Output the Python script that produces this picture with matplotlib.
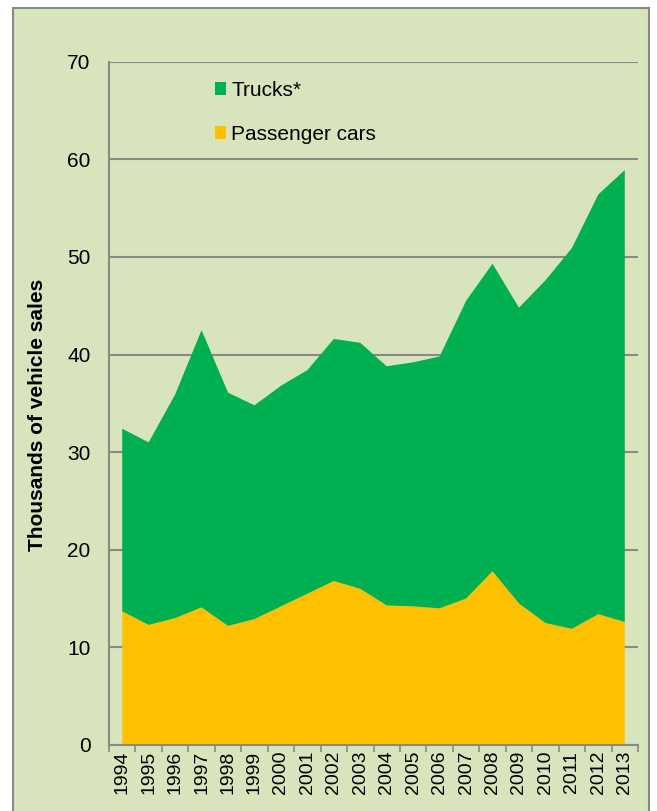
import numpy as np
import matplotlib
matplotlib.use('agg')
import matplotlib.pyplot as plt
from matplotlib.patches import Rectangle, Patch

#------------------------------------------------------------------------------
# DATA (thousands of vehicle sales)
#------------------------------------------------------------------------------
years = ['1994','1995','1996','1997','1998','1999','2000','2001','2002','2003',
         '2004','2005','2006','2007','2008','2009','2010','2011','2012','2013']
cars = [13.7, 12.3, 13.0, 14.1, 12.2, 12.9, 14.2, 15.5, 16.8, 16.0,
        14.3, 14.2, 14.0, 15.0, 17.8, 14.5, 12.5, 11.9, 13.4, 12.6]
trucks = [18.7, 18.7, 22.9, 28.4, 23.9, 21.9, 22.6, 22.9, 24.8, 25.2,
          24.5, 25.0, 25.8, 30.5, 31.5, 30.3, 35.1, 39.0, 43.0, 46.3]
yticks = [0, 10, 20, 30, 40, 50, 60, 70]

#------------------------------------------------------------------------------
# SETTINGS
#------------------------------------------------------------------------------
plt.rcParams['font.family'] = ['Liberation Sans', 'DejaVu Sans']
col_cars = '#FFC000'
col_trucks = '#00B050'
col_bg = '#D8E4BC'
col_grey = '#898989'

fig = plt.figure(figsize=(6.57, 8.11), dpi=100)
fig.patch.set_facecolor('white')

# outer panel (drawn behind the axes)
panel = Rectangle((13/657, -0.05), (649-13)/657, 1.05 - 8/811, transform=fig.transFigure,
                  facecolor=col_bg, edgecolor=col_grey, linewidth=1.5, zorder=-10)
fig.patches.append(panel)

ax = fig.add_axes([109/657, 66/811, (638-109)/657, (745-61.7)/811])
ax.set_zorder(5)
ax.set_facecolor('none')

x = np.arange(len(years))
ax.stackplot(x, cars, trucks, colors=[col_cars, col_trucks], zorder=1)

ax.set_xlim(-0.5, len(years)-0.5)
ax.set_ylim(0, 70)
ax.set_yticks(yticks)
ax.set_yticklabels([str(v) for v in yticks], fontsize=15)
ax.tick_params(axis='y', length=0, pad=13.4)
ax.yaxis.grid(True, color=col_grey, linewidth=1.5)
ax.set_axisbelow(True)

ax.set_xticks(x)
ax.set_xticklabels(years, rotation=90, fontsize=14)
ax.set_xticks(np.arange(len(years)+1) - 0.5, minor=True)
ax.tick_params(axis='x', which='major', length=0, pad=4)
ax.tick_params(axis='x', which='minor', length=5, width=1.2, color=col_grey)

for s in ['top', 'right']:
    ax.spines[s].set_visible(False)
for s in ['left', 'bottom']:
    ax.spines[s].set_color(col_grey)
    ax.spines[s].set_linewidth(1.5)
    ax.spines[s].set_zorder(3)

fig.text(38/657, 1 - 415/811, 'Thousands of vehicle sales', rotation=90, fontsize=15,
         fontweight='bold', ha='center', va='center', zorder=6)

handles = [Patch(facecolor=col_trucks), Patch(facecolor=col_cars)]
ax.legend(handles, ['Trucks*', 'Passenger cars'], loc='upper left',
          bbox_to_anchor=(0.164, 0.999), frameon=False, fontsize=15,
          handlelength=0.55, handleheight=0.55, handletextpad=0.25,
          labelspacing=1.2)

plt.savefig('out.png', dpi=100, facecolor='white')
plt.close('all')
